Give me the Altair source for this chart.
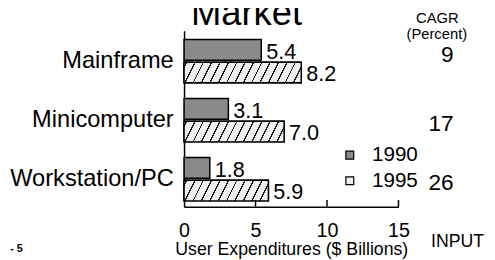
import altair as alt
import pandas as pd

# ---------------- data ----------------
categories = ["Mainframe", "Minicomputer", "Workstation/PC"]
years = ["1990", "1995"]
values_1990 = [5.4, 3.1, 1.8]
values_1995 = [8.2, 7.0, 5.9]
cagr = [9, 17, 26]
x_ticks = [0, 5, 10, 15]
title_text = "Market"
cagr_head = ["CAGR", "(Percent)"]
x_title = "User Expenditures ($ Billions)"
source_text = "INPUT"
page_text = "- 5"

rows = []
for c, v0, v1 in zip(categories, values_1990, values_1995):
    rows.append({"category": c, "year": years[0], "value": v0})
    rows.append({"category": c, "year": years[1], "value": v1})
df = pd.DataFrame(rows)
cagr_df = pd.DataFrame({"category": categories, "cagr": cagr})
tick_df = pd.DataFrame({"value": x_ticks[1:]})

# ---------------- style ----------------
W, H = 218, 179
FONT = "Liberation Sans"
GRAY = "#8a8a8a"
LIGHT = "#efefef"
DARK = "#1a1a1a"
PPU = W / 15.0
BAR_H = 21.0
SLOPE = 0.5
PERIOD = 8.5
LINE_W = 1.4


def hatch(v):
    w = v * PPU
    F = w + SLOPE * BAR_H
    c = F / (w * w + (SLOPE * BAR_H) ** 2)
    stops = [alt.GradientStop(offset=0, color=LIGHT)]
    p = 2.0
    while p + LINE_W < F:
        a0 = round(p / F, 5)
        a1 = round((p + LINE_W) / F, 5)
        stops += [
            alt.GradientStop(offset=a0, color=LIGHT),
            alt.GradientStop(offset=a0, color=DARK),
            alt.GradientStop(offset=a1, color=DARK),
            alt.GradientStop(offset=a1, color=LIGHT),
        ]
        p += PERIOD
    stops.append(alt.GradientStop(offset=1, color=LIGHT))
    return alt.LinearGradient(
        gradient="linear", stops=stops, x1=0, y1=0,
        x2=round(c * w, 5), y2=round(c * SLOPE * BAR_H, 5),
    )


y_enc = alt.Y(
    "category:N", sort=categories,
    scale=alt.Scale(paddingInner=0.2667, paddingOuter=0.125, align=0.6),
    axis=alt.Axis(title=None, ticks=False, tickSize=0, labelFontSize=24,
                  labelFont=FONT, labelColor="black", labelPadding=11,
                  domainColor="black", domainWidth=1.5, labelLimit=300),
)
yoff = alt.YOffset("year:N", sort=years,
                   scale=alt.Scale(paddingInner=0.087, paddingOuter=0))
x_enc = alt.X(
    "value:Q",
    scale=alt.Scale(domain=[0, 15], nice=False, zero=True),
    axis=alt.Axis(values=x_ticks, ticks=False, tickSize=0, grid=False,
                  labelFontSize=20, labelFont=FONT, labelColor="black",
                  labelPadding=14, labelFlush=False,
                  title=x_title, titleFont=FONT, titleFontSize=18,
                  titleFontWeight="normal", titleColor="black", titlePadding=1,
                  domainColor="black", domainWidth=1.5),
)

base = alt.Chart(df)

bars = base.mark_bar(stroke="black", strokeWidth=1.5).encode(
    x=x_enc, y=y_enc, yOffset=yoff,
    color=alt.Color(
        "year:N",
        scale=alt.Scale(domain=years, range=[GRAY, LIGHT]),
        legend=alt.Legend(orient="none", legendX=158, legendY=116, title=None,
                          symbolType="square", symbolSize=64,
                          symbolStrokeColor="black", symbolStrokeWidth=1.2,
                          labelFontSize=21, labelFont=FONT, labelColor="black",
                          labelOffset=12, rowPadding=4, padding=0),
    ),
)

hatch_layers = []
for c, v in zip(categories, values_1995):
    hatch_layers.append(
        base.transform_filter(
            (alt.datum.category == c) & (alt.datum.year == years[1])
        ).mark_bar(fill=hatch(v), stroke="black", strokeWidth=1.5).encode(
            x=x_enc, y=y_enc, yOffset=yoff
        )
    )

value_labels = base.mark_text(
    align="left", baseline="middle", dx=5, dy=2, fontSize=22, font=FONT,
    color="black"
).encode(x=x_enc, y=y_enc, yOffset=yoff,
         text=alt.Text("value:Q", format=".1f"))

inner_ticks = alt.Chart(tick_df).mark_rule(color="black", strokeWidth=1.5).encode(
    x=x_enc, y=alt.value(H), y2=alt.value(H - 7)
)

cagr_first = alt.Chart(cagr_df).transform_filter(
    alt.datum.category == categories[0]
).mark_text(align="right", baseline="middle", dy=-6, fontSize=23, font=FONT,
            color="black").encode(
    y=y_enc, x=alt.value(274), text="cagr:Q")
cagr_rest = alt.Chart(cagr_df).transform_filter(
    alt.datum.category != categories[0]
).mark_text(align="right", baseline="middle", dy=4, fontSize=23, font=FONT,
            color="black").encode(
    y=y_enc, x=alt.value(274), text="cagr:Q")


def note(txt, x, y, size, align="center", weight="normal"):
    return alt.Chart(pd.DataFrame({"t": [txt]})).mark_text(
        align=align, baseline="alphabetic", fontSize=size, font=FONT,
        fontWeight=weight, color="black"
    ).encode(text="t:N", x=alt.value(x), y=alt.value(y))


notes = [
    note(title_text, 63.5, -6, 37),
    note(cagr_head[0], 257.5, -8, 15),
    note(cagr_head[1], 257, 8, 15),
    note(source_text, 305, 220, 18, align="right"),
    note(page_text, -164, 225, 11, align="right", weight="bold"),
]

chart = alt.layer(
    bars, *hatch_layers, value_labels, inner_ticks, cagr_first, cagr_rest, *notes
).properties(
    width=W, height=H,
    autosize=alt.AutoSizeParams(type="none"),
    padding={"left": 179, "top": 21, "right": 90, "bottom": 52},
    background="white",
).configure_view(stroke=None)

chart.save("out.html", embed_options={"renderer": "svg", "actions": False})
